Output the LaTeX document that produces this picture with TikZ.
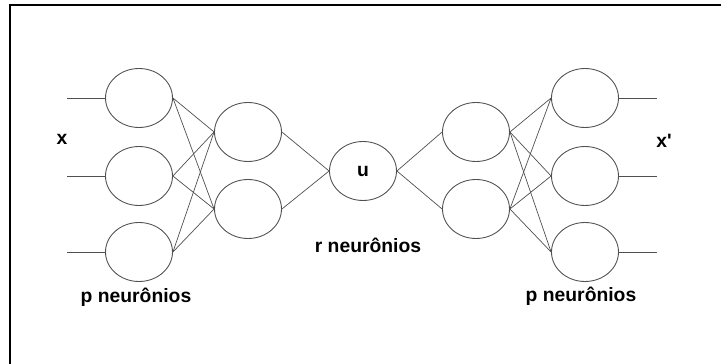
\documentclass[tikz,border=0pt]{standalone}
\usepackage{fontspec}
\setmainfont{Liberation Sans}
\usepackage{xcolor}
\usetikzlibrary{positioning, shapes.geometric}
\definecolor{netgray}{HTML}{505050}

\begin{document}
\begin{tikzpicture}[
        x=0.02cm, y=-0.02cm,
        font=\fontsize{11}{13}\selectfont\bfseries,
        neuron/.style={ellipse, draw=netgray, line width=0.5pt,
                minimum width=1.34cm, minimum height=1.18cm, inner sep=0pt},
        link/.style={netgray, line width=0.4pt},
        lbl/.style={inner sep=0pt, text=black},
    ]
    \useasboundingbox (0,0) rectangle (721,364);
    \draw[line width=1.2pt] (10,380) -- (10,5) -- (740,5);

    % input and output layers
    \foreach \i/\y in {1/98, 2/176, 3/252} {
        \node[neuron] (xa\i) at (139,\y) {};
        \node[neuron] (xb\i) at (585,\y) {};
        \coordinate (in\i) at (67,\y);
        \coordinate (out\i) at (657,\y);
        \draw[link] (in\i) -- (xa\i.west);
        \draw[link] (xb\i.east) -- (out\i);
    }

    % hidden layers
    \foreach \j/\y in {1/132, 2/209} {
        \node[neuron] (ea\j) at (248,\y) {};
        \node[neuron] (da\j) at (476,\y) {};
    }
    \node[neuron] (u) at (363,171) {u};

    \foreach \i in {1,2,3} {
        \foreach \j in {1,2} {
            \draw[link] (xa\i.east) -- (ea\j.west);
            \draw[link] (da\j.east) -- (xb\i.west);
        }
    }
    \foreach \j in {1,2} {
        \draw[link] (ea\j.east) -- (u.west);
        \draw[link] (u.east) -- (da\j.west);
    }

    \node[lbl] (xlbl) at (62,139) {x};
    \node[lbl] (xplbl) at (664,141) {x\textquotesingle};
    \node[lbl] (pleft) at (136,297) {p neurônios};
    \node[lbl] (pright) at (581,296) {p neurônios};
    \node[lbl] (rmid) at (368,245) {r neurônios};
\end{tikzpicture}
\end{document}
